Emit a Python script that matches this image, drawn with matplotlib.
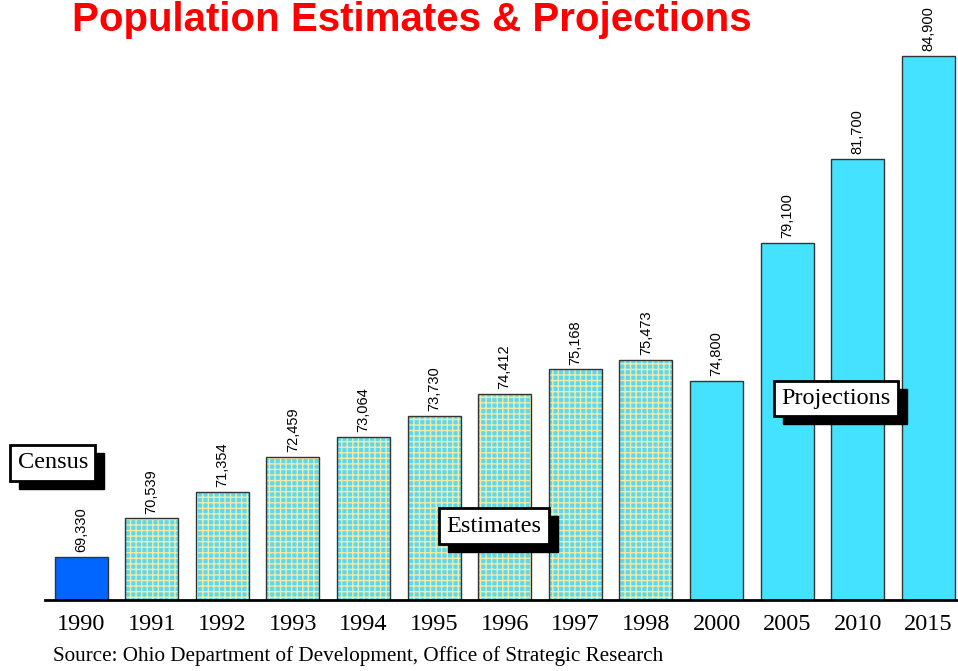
import matplotlib.pyplot as plt
from matplotlib.patches import Rectangle

years = ["1990", "1991", "1992", "1993", "1994", "1995", "1996",
         "1997", "1998", "2000", "2005", "2010", "2015"]
population = [69330, 70539, 71354, 72459, 73064, 73730, 74412,
              75168, 75473, 74800, 79100, 81700, 84900]
kind = ["census"] + ["estimate"] * 8 + ["projection"] * 4

colors = {"census": "#0066ff", "estimate": "#5cd8f0", "projection": "#44e2ff"}

plt.rcParams["hatch.linewidth"] = 1.0

fig = plt.figure(figsize=(9.58, 6.71), dpi=100)
ax = fig.add_axes([0.047, 0.1058, 0.953, 0.863])

x = list(range(len(years)))
base = 68000
heights = [p - base for p in population]
width = 0.75

for i in x:
    if kind[i] == "estimate":
        ax.bar(i, heights[i], width, bottom=base, color=colors["estimate"],
               hatch="+++", edgecolor="#f2eaa6", linewidth=0)
        ax.bar(i, heights[i], width, bottom=base, fill=False,
               edgecolor="#333333", linewidth=1.0)
    else:
        ax.bar(i, heights[i], width, bottom=base, color=colors[kind[i]],
               edgecolor="#333333", linewidth=1.0)
    ax.text(i, population[i] + 150, f"{population[i]:,}", rotation=90,
            ha="center", va="bottom", fontsize=10.5, family="Liberation Sans")

ax.set_xlim(-0.51, 12.42)
ax.set_ylim(base, 86000)
ax.set_xticks(x)
ax.set_xticklabels(years, family="Liberation Serif", fontsize=17.5)
ax.tick_params(axis="x", length=0, pad=10)
ax.set_yticks([])
for s in ["left", "right", "top"]:
    ax.spines[s].set_visible(False)
ax.spines["bottom"].set_linewidth(2)

fig.text(0.43, 0.998, "Population Estimates & Projections", color="#ff0000",
         fontsize=29, fontweight="bold", family="Liberation Sans",
         ha="center", va="top")
fig.text(0.055, 0.007, "Source: Ohio Department of Development, Office of Strategic Research",
         family="Liberation Serif", fontsize=15.2, ha="left", va="bottom")

# callout boxes with drop shadow
boxes = [("Census", 0.0185, 0.31), ("Estimates", 0.466, 0.216),
         ("Projections", 0.816, 0.406)]
texts = []
for label, bx, by in boxes:
    t = fig.text(bx, by, label, family="Liberation Serif", fontsize=17.5,
                 ha="left", va="center", zorder=5,
                 bbox=dict(boxstyle="square,pad=0.3", facecolor="white",
                           edgecolor="black", linewidth=2))
    texts.append(t)

fig.canvas.draw()
for t in texts:
    bb = t.get_bbox_patch().get_window_extent()
    fig.patches.append(Rectangle((bb.x0 + 9, bb.y0 - 8), bb.width, bb.height,
                                 transform=None, facecolor="black",
                                 edgecolor="black", zorder=4, figure=fig))

fig.savefig("out.png")
